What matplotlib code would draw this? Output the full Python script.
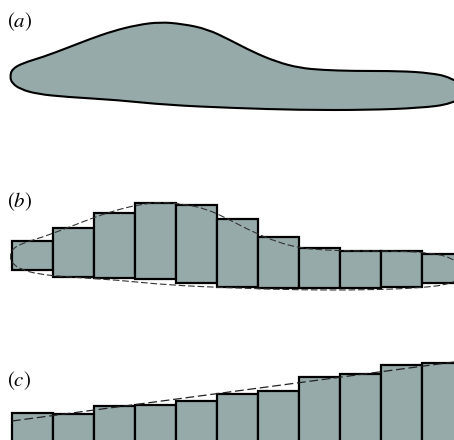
import matplotlib
matplotlib.use("Agg")
import matplotlib.pyplot as plt
import numpy as np
from matplotlib.path import Path
from matplotlib.patches import PathPatch, Rectangle

plt.rcParams['mathtext.fontset'] = 'stix'

# outline of the shape in panel (a) (pixel units)
blob_x = [10, 12, 23, 43, 67, 90, 113, 137, 160, 183, 207, 230, 253, 277, 300,
          323, 353, 400, 430, 450, 472, 452, 420, 367, 300, 233, 167, 117,
          67, 37, 20, 12]
blob_y = [77, 69, 63, 57, 48, 39, 31, 25, 22, 24, 29, 40, 52, 62, 68,
          70, 71, 71, 73, 77, 91, 104, 108, 110, 110, 108, 105, 100,
          97, 94, 89, 83]

# panel (b): top and bottom of each slice
b_top = [240.7, 227.7, 212.7, 203.3, 205.0, 219.3, 236.7, 248.3, 251.0, 251.0, 254.0]
b_bot = [270.0, 277.3, 278.3, 279.5, 283.5, 287.3, 288.5, 288.5, 288.3, 287.3, 282.7]

# panel (c): heights of the slices (tops), and the dashed trend line
c_top = [413.3, 414.3, 406.5, 405.0, 401.0, 394.0, 391.0, 377.5, 374.3, 365.0, 363.3]
trend_x = [12, 454]
trend_y = [421.0, 362.0]

labels = ['$(a)$', '$(b)$', '$(c)$']
label_y = [21.5, 202.0, 380.5]

fill = '#96aaaa'
x0 = 11.7
w = 41.05
b_shift = 180


def smooth_path(xs, ys, dy=0):
    # closed quadratic spline through the midpoints of the traced points
    pts = np.column_stack([xs, np.array(ys) + dy])
    n = len(pts)
    mids = (pts + np.roll(pts, -1, axis=0)) / 2.0
    verts = [mids[-1]]
    codes = [Path.MOVETO]
    for i in range(n):
        verts += [pts[i], mids[i]]
        codes += [Path.CURVE3, Path.CURVE3]
    return Path(verts, codes)


fig = plt.figure(figsize=(4.54, 4.40), dpi=100)
ax = fig.add_axes([0, 0, 1, 1])
ax.set_xlim(0, 454)
ax.set_ylim(440, 0)
ax.axis('off')

# (a)
ax.add_patch(PathPatch(smooth_path(blob_x, blob_y), facecolor=fill,
                       edgecolor='black', lw=1.5))

# (b)
for i in range(len(b_top)):
    ax.add_patch(Rectangle((x0 + i * w, b_top[i]), w, b_bot[i] - b_top[i],
                           facecolor=fill, edgecolor='black', lw=1.6))
ax.add_patch(PathPatch(smooth_path(blob_x, blob_y, b_shift), facecolor='none',
                       edgecolor='#333333', lw=0.8, linestyle=(0, (6, 2.5))))

# (c)
for i in range(len(c_top)):
    ax.add_patch(Rectangle((x0 + i * w, c_top[i]), w, 500 - c_top[i],
                           facecolor=fill, edgecolor='black', lw=1.6))
ax.plot(trend_x, trend_y, color='#222222', lw=0.9, linestyle=(0, (7, 3)))

for lab, ly in zip(labels, label_y):
    ax.text(7, ly, lab, fontsize=15, ha='left', va='center')

fig.savefig('out.png', dpi=100)
